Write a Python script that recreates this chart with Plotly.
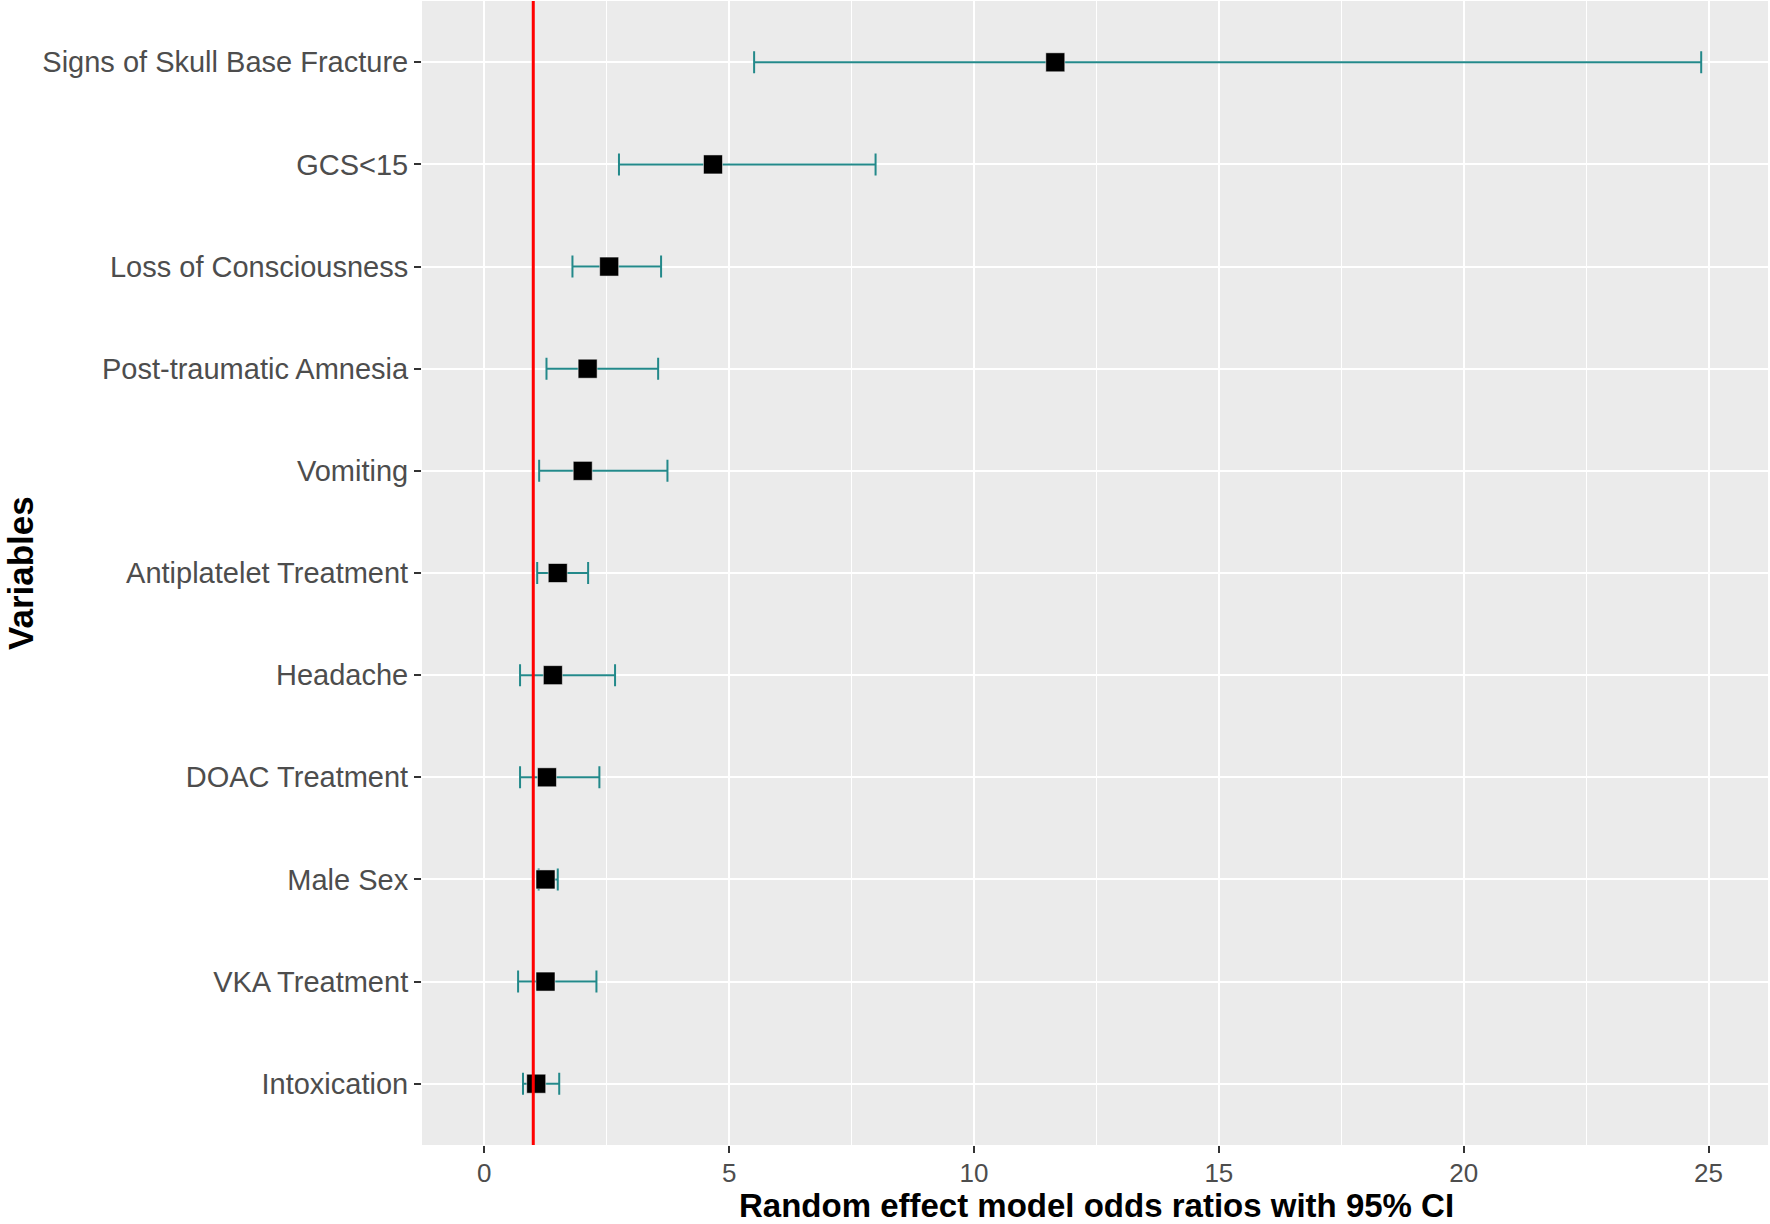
import plotly.graph_objects as go

variables = ["Signs of Skull Base Fracture", "GCS<15", "Loss of Consciousness",
             "Post-traumatic Amnesia", "Vomiting", "Antiplatelet Treatment",
             "Headache", "DOAC Treatment", "Male Sex", "VKA Treatment", "Intoxication"]
odds_ratio = [11.66, 4.67, 2.55, 2.11, 2.01, 1.50, 1.40, 1.28, 1.25, 1.25, 1.06]
ci_lower = [5.51, 2.75, 1.80, 1.27, 1.12, 1.08, 0.73, 0.73, 1.11, 0.69, 0.79]
ci_upper = [24.85, 7.99, 3.61, 3.55, 3.74, 2.12, 2.67, 2.35, 1.50, 2.29, 1.53]
ref_line = 1
x_ticks = [0, 5, 10, 15, 20, 25]

W, H = 1770, 1224
ml, mr, mt, mb = 422, 2, 1, 79
pw, ph = W - ml - mr, H - mt - mb

font = "Liberation Sans, Arial, sans-serif"
teal = "#23898A"

fig = go.Figure()
fig.add_trace(go.Scatter(
    x=odds_ratio, y=variables, mode="markers",
    marker=dict(symbol="square", size=19, color="black",
                line=dict(color="rgba(255,255,255,0.5)", width=1)),
    error_x=dict(type="data", symmetric=False,
                 array=[u - o for u, o in zip(ci_upper, odds_ratio)],
                 arrayminus=[o - l for o, l in zip(odds_ratio, ci_lower)],
                 color=teal, thickness=2, width=11),
    showlegend=False, hoverinfo="x+y",
))

fig.add_shape(type="line", xref="x", yref="paper", x0=ref_line, x1=ref_line,
              y0=0, y1=1, line=dict(color="#FF0000", width=3), layer="above")

fig.update_layout(
    width=W, height=H,
    margin=dict(l=ml, r=mr, t=mt, b=mb, pad=0),
    paper_bgcolor="white", plot_bgcolor="#EBEBEB",
    font=dict(family=font, color="#4D4D4D"),
    xaxis=dict(
        range=[(0 - (484.3 - ml)) / 48.97, (pw - (484.3 - ml)) / 48.97],
        tickvals=x_ticks, ticktext=[str(t) for t in x_ticks],
        showgrid=True, gridcolor="white", gridwidth=2,
        minor=dict(dtick=2.5, tick0=2.5, showgrid=True, gridcolor="white", gridwidth=1.2, ticks=""),
        ticks="outside", ticklen=7, tickwidth=2, tickcolor="#333333",
        ticklabelstandoff=-2,
        tickfont=dict(size=26, color="#4D4D4D", family=font),
        zeroline=False, showline=False, fixedrange=True,
    ),
    yaxis=dict(
        type="category", categoryorder="array", categoryarray=variables[::-1],
        range=[-0.6, len(variables) - 0.4],
        showgrid=True, gridcolor="white", gridwidth=2,
        ticks="outside", ticklen=7, tickwidth=2, tickcolor="#333333",
        tickfont=dict(size=29, color="#4D4D4D", family=font),
        zeroline=False, showline=False, fixedrange=True,
    ),
    annotations=[
        dict(text="<b>Random effect model odds ratios with 95% CI</b>",
             xref="paper", yref="paper", x=(1096 - ml) / pw, y=(mt + ph - 1225) / ph,
             xanchor="center", yanchor="bottom", showarrow=False, borderpad=0,
             font=dict(size=33, color="black", family=font)),
        dict(text="<b>Variables</b>", textangle=-90,
             xref="paper", yref="paper", x=(20 - ml) / pw, y=0.5,
             xanchor="center", yanchor="middle", showarrow=False,
             font=dict(size=35, color="black", family=font)),
    ],
)

fig.write_html("out.html", config={"displayModeBar": False},
               post_script="document.body.style.margin='0px';document.body.style.overflow='hidden';")
